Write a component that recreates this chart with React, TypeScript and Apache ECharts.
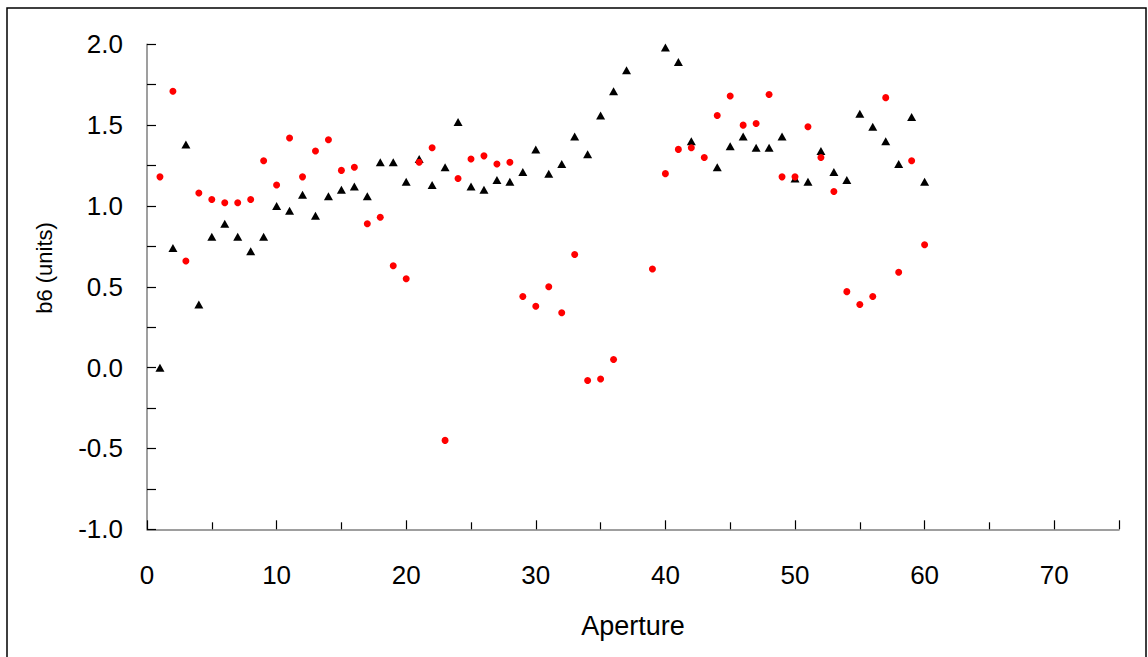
import React, { useEffect, useRef } from "react";
import * as echarts from "echarts";

const apertures = [
  1, 2, 3, 4, 5, 6, 7, 8, 9, 10, 11, 12, 13, 14, 15, 16, 17, 18, 19, 20,
  21, 22, 23, 24, 25, 26, 27, 28, 29, 30, 31, 32, 33, 34, 35, 36, 37, 38, 39, 40,
  41, 42, 43, 44, 45, 46, 47, 48, 49, 50, 51, 52, 53, 54, 55, 56, 57, 58, 59, 60,
];

const redValues: (number | null)[] = [
  1.18, 1.71, 0.66, 1.08, 1.04, 1.02, 1.02, 1.04, 1.28, 1.13,
  1.42, 1.18, 1.34, 1.41, 1.22, 1.24, 0.89, 0.93, 0.63, 0.55,
  1.27, 1.36, -0.45, 1.17, 1.29, 1.31, 1.26, 1.27, 0.44, 0.38,
  0.50, 0.34, 0.70, -0.08, -0.07, 0.05, null, null, 0.61, 1.20,
  1.35, 1.36, 1.30, 1.56, 1.68, 1.50, 1.51, 1.69, 1.18, 1.18,
  1.49, 1.30, 1.09, 0.47, 0.39, 0.44, 1.67, 0.59, 1.28, 0.76,
];

const blackValues: (number | null)[] = [
  0.0, 0.74, 1.38, 0.39, 0.81, 0.89, 0.81, 0.72, 0.81, 1.0,
  0.97, 1.07, 0.94, 1.06, 1.1, 1.12, 1.06, 1.27, 1.27, 1.15,
  1.29, 1.13, 1.24, 1.52, 1.12, 1.1, 1.16, 1.15, 1.21, 1.35,
  1.2, 1.26, 1.43, 1.32, 1.56, 1.71, 1.84, null, null, 1.98,
  1.89, 1.4, null, 1.24, 1.37, 1.43, 1.36, 1.36, 1.43, 1.17,
  1.15, 1.34, 1.21, 1.16, 1.57, 1.49, 1.4, 1.26, 1.55, 1.15,
];

const xAxisName = "Aperture";
const yAxisName = "b6 (units)";

const toPairs = (vals: (number | null)[]) =>
  apertures
    .map((a, i) => (vals[i] === null ? null : [a, vals[i] as number]))
    .filter((p) => p !== null) as number[][];

export default function App() {
  const ref = useRef<HTMLDivElement>(null);
  useEffect(() => {
    if (!ref.current) return;
    const chart = echarts.init(ref.current, undefined, { renderer: "svg" });
    const font = "Liberation Sans, Arial, sans-serif";
    chart.setOption({
      animation: false,
      backgroundColor: "#ffffff",
      grid: { left: 147, top: 44.3, right: 29, bottom: 127.7, containLabel: false },
      xAxis: {
        type: "value",
        min: 0,
        max: 75,
        interval: 10,
        axisLine: { show: true, onZero: false, lineStyle: { color: "#7f7f7f", width: 1.5 } },
        axisTick: { show: true, inside: true, length: 9, lineStyle: { color: "#000", width: 1.2 } },
        minorTick: { show: true, splitNumber: 2, length: 7, lineStyle: { color: "#000", width: 1.2 } },
        splitLine: { show: false },
        axisLabel: {
          margin: 33,
          fontSize: 26,
          color: "#000",
          fontFamily: font,
          showMaxLabel: false,
        },
      },
      yAxis: {
        type: "value",
        min: -1,
        max: 2,
        interval: 0.5,
        axisLine: { show: true, onZero: false, lineStyle: { color: "#7f7f7f", width: 1.5 } },
        axisTick: { show: true, inside: true, length: 9, lineStyle: { color: "#000", width: 1.2 } },
        minorTick: { show: true, splitNumber: 2, length: 9, lineStyle: { color: "#000", width: 1.2 } },
        splitLine: { show: false },
        axisLabel: {
          margin: 24,
          fontSize: 26,
          color: "#000",
          fontFamily: font,
          formatter: (v: number) => v.toFixed(1),
        },
      },
      graphic: [
        {
          type: "rect",
          shape: { x: 7, y: 8, width: 1139, height: 700 },
          style: { fill: "none", stroke: "#000", lineWidth: 1.5 },
          silent: true,
        },
        {
          type: "text",
          x: 633,
          y: 626,
          style: {
            text: xAxisName,
            fontSize: 27,
            fontFamily: font,
            fill: "#000",
            textAlign: "center",
            textVerticalAlign: "middle",
          },
        },
        {
          type: "text",
          x: 44,
          y: 268,
          rotation: Math.PI / 2,
          style: {
            text: yAxisName,
            fontSize: 22,
            fontFamily: font,
            fill: "#000",
            textAlign: "center",
            textVerticalAlign: "middle",
          },
        },
      ],
      series: [
        {
          name: "black",
          type: "scatter",
          symbol: "triangle",
          symbolSize: [9, 8],
          itemStyle: { color: "#000000", opacity: 1 },
          data: toPairs(blackValues),
        },
        {
          name: "red",
          type: "scatter",
          symbol: "circle",
          symbolSize: 7,
          itemStyle: { color: "#ff0000", opacity: 1 },
          data: toPairs(redValues),
        },
      ],
    });
    return () => chart.dispose();
  }, []);
  return (
    <div
      ref={ref}
      style={{ position: "fixed", left: 0, top: 0, width: 1148, height: 657 }}
    />
  );
}
